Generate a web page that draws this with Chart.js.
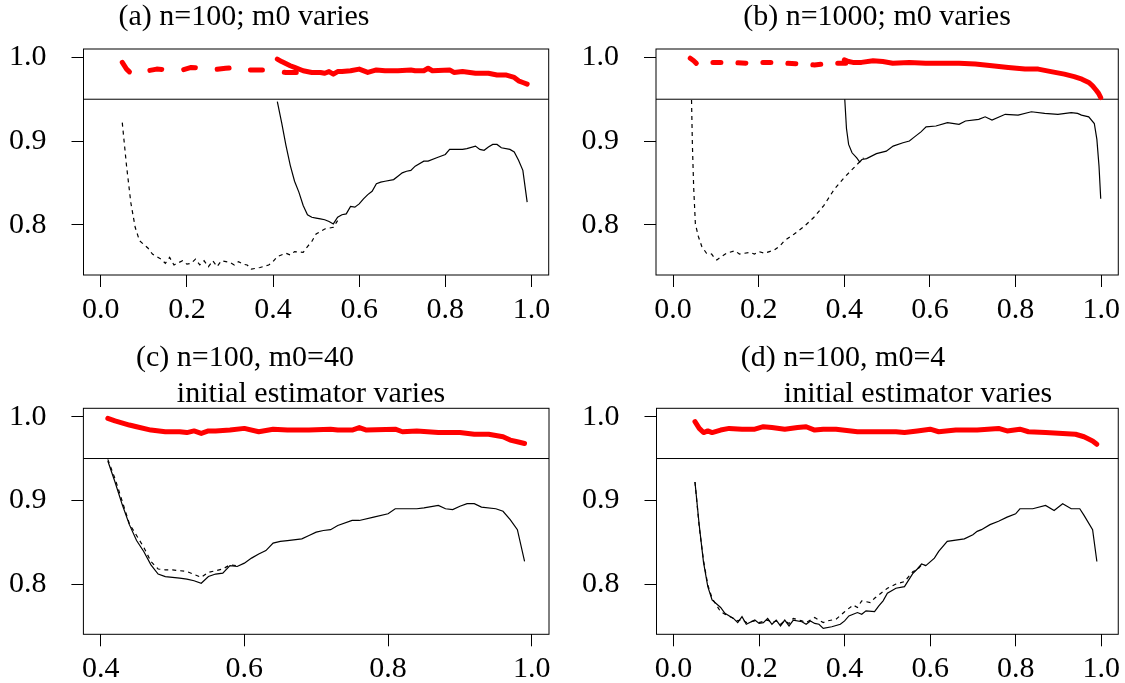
<!DOCTYPE html>
<html>
<head>
<meta charset="utf-8">
<title>Coverage panels</title>
<script src="https://cdn.jsdelivr.net/npm/chart.js@4.4.1/dist/chart.umd.min.js"></script>
<style>
  body { margin: 0; background: #fff; }
  .panel { position: absolute; }
</style>
</head>
<body>
<div class="panel" style="left:0;top:0;width:562px;height:341px"><canvas id="chartA"></canvas></div>
<div class="panel" style="left:562px;top:0;width:563px;height:341px"><canvas id="chartB"></canvas></div>
<div class="panel" style="left:0;top:341px;width:562px;height:342px"><canvas id="chartC"></canvas></div>
<div class="panel" style="left:562px;top:341px;width:563px;height:342px"><canvas id="chartD"></canvas></div>
<script>
// tick labels
const xTicksFull = [0.0, 0.2, 0.4, 0.6, 0.8, 1.0];
const xTicksC = [0.4, 0.6, 0.8, 1.0];
const yTicks = [0.8, 0.9, 1.0];
const refLevel = 0.95;

// n=100, m0=40 (solid in a, solid in c)
const est40BlackX = [0.41,0.42,0.43,0.44,0.45,0.46,0.47,0.48,0.49,0.50,0.51,0.52,0.53,0.54,0.55,0.56,0.57,0.58,0.59,0.60,0.61,0.62,0.63,0.64,0.65,0.66,0.68,0.69,0.70,0.71,0.72,0.73,0.75,0.76,0.78,0.80,0.81,0.84,0.85,0.87,0.88,0.89,0.90,0.91,0.92,0.93,0.95,0.96,0.97,0.98,0.99];
const est40BlackY = [0.947,0.922,0.895,0.871,0.852,0.839,0.823,0.812,0.809,0.808,0.807,0.806,0.804,0.801,0.809,0.812,0.813,0.822,0.821,0.825,0.831,0.836,0.840,0.849,0.851,0.852,0.854,0.858,0.862,0.864,0.865,0.870,0.876,0.876,0.880,0.884,0.890,0.890,0.891,0.894,0.890,0.889,0.893,0.896,0.896,0.892,0.890,0.887,0.877,0.865,0.827];
const est40RedX = [0.41,0.42,0.44,0.45,0.47,0.49,0.51,0.52,0.53,0.54,0.55,0.56,0.58,0.60,0.62,0.64,0.66,0.69,0.72,0.73,0.75,0.76,0.77,0.81,0.82,0.84,0.87,0.90,0.92,0.94,0.96,0.97,0.98,0.99];
const est40RedY = [0.998,0.995,0.990,0.988,0.984,0.982,0.982,0.981,0.983,0.980,0.983,0.983,0.984,0.986,0.982,0.985,0.984,0.984,0.985,0.984,0.984,0.987,0.984,0.985,0.982,0.983,0.981,0.981,0.979,0.979,0.976,0.972,0.970,0.968];

// n=100, m0=4 (dashed in a, solid in d)
const est4BlackX = [0.05,0.06,0.07,0.08,0.09,0.11,0.12,0.14,0.15,0.16,0.17,0.19,0.20,0.21,0.22,0.23,0.24,0.25,0.26,0.27,0.28,0.30,0.31,0.32,0.33,0.34,0.35,0.37,0.39,0.40,0.41,0.43,0.44,0.45,0.47,0.48,0.49,0.50,0.52,0.54,0.55,0.56,0.57,0.58,0.59,0.61,0.62,0.64,0.68,0.70,0.71,0.72,0.74,0.76,0.78,0.80,0.81,0.84,0.87,0.89,0.91,0.93,0.95,0.96,0.98,0.99];
const est4BlackY = [0.922,0.870,0.826,0.797,0.781,0.772,0.765,0.759,0.754,0.761,0.752,0.757,0.753,0.754,0.759,0.752,0.757,0.750,0.757,0.750,0.757,0.755,0.752,0.756,0.753,0.752,0.747,0.749,0.752,0.756,0.762,0.766,0.764,0.768,0.767,0.774,0.780,0.789,0.795,0.797,0.805,0.813,0.818,0.824,0.822,0.831,0.839,0.851,0.854,0.859,0.863,0.865,0.871,0.875,0.880,0.884,0.890,0.890,0.894,0.888,0.896,0.890,0.890,0.882,0.865,0.827];
const est4RedX = [0.05,0.06,0.07,0.08,0.09,0.11,0.13,0.16,0.19,0.21,0.23,0.26,0.29,0.31,0.33,0.35,0.38,0.43,0.47,0.52,0.54,0.57,0.60,0.62,0.66,0.71,0.76,0.78,0.81,0.83,0.87,0.91,0.94,0.96,0.98,0.99];
const est4RedY = [0.994,0.986,0.981,0.983,0.981,0.984,0.986,0.985,0.985,0.988,0.987,0.985,0.987,0.988,0.984,0.985,0.985,0.982,0.982,0.982,0.981,0.983,0.985,0.982,0.984,0.984,0.986,0.983,0.985,0.982,0.981,0.980,0.979,0.976,0.971,0.967];

// other initial estimator (dashed in c and d)
const cAltBlackX = [0.41,0.42,0.43,0.44,0.45,0.46,0.47,0.48,0.49,0.50,0.52,0.54,0.55,0.57,0.58,0.59];
const cAltBlackY = [0.949,0.926,0.899,0.872,0.858,0.844,0.827,0.818,0.817,0.817,0.815,0.808,0.814,0.818,0.823,0.822];
const dAltBlackX = [0.05,0.06,0.07,0.08,0.09,0.10,0.11,0.12,0.14,0.15,0.16,0.17,0.19,0.20,0.22,0.23,0.24,0.25,0.26,0.27,0.28,0.30,0.31,0.32,0.33,0.35,0.36,0.38,0.40,0.42,0.43,0.44,0.46,0.47,0.50,0.52,0.54,0.56,0.57,0.58,0.59];
const dAltBlackY = [0.922,0.868,0.828,0.799,0.783,0.775,0.767,0.764,0.759,0.756,0.758,0.754,0.756,0.754,0.757,0.754,0.756,0.752,0.756,0.753,0.759,0.756,0.754,0.757,0.760,0.754,0.756,0.758,0.767,0.775,0.772,0.780,0.778,0.783,0.795,0.800,0.803,0.815,0.817,0.823,0.822];

// n=1000
const bBlackDashX = [0.043,0.045,0.048,0.052,0.059,0.067,0.078,0.090,0.097,0.102,0.110,0.125,0.144,0.155,0.167,0.180,0.190,0.200,0.214,0.225,0.237,0.250,0.260,0.283,0.306,0.329,0.352,0.376,0.399,0.422,0.445];
const bBlackDashY = [0.949,0.896,0.845,0.801,0.786,0.774,0.766,0.765,0.760,0.758,0.761,0.766,0.769,0.765,0.766,0.767,0.765,0.768,0.766,0.768,0.770,0.775,0.781,0.789,0.798,0.809,0.823,0.842,0.856,0.868,0.880];
const bBlackSolidX = [0.401,0.405,0.410,0.418,0.429,0.436,0.441,0.452,0.475,0.498,0.514,0.537,0.552,0.564,0.579,0.591,0.614,0.641,0.668,0.683,0.714,0.729,0.745,0.776,0.806,0.837,0.868,0.899,0.930,0.945,0.954,0.971,0.984,0.990,0.995,0.999];
const bBlackSolidY = [0.950,0.915,0.896,0.886,0.880,0.875,0.878,0.879,0.885,0.888,0.894,0.898,0.900,0.905,0.911,0.917,0.918,0.922,0.920,0.924,0.926,0.929,0.925,0.932,0.931,0.935,0.933,0.932,0.934,0.933,0.931,0.929,0.921,0.902,0.870,0.831];
const bRedDashX = [0.040,0.048,0.056,0.065,0.080,0.100,0.120,0.150,0.175,0.205,0.230,0.265,0.295,0.330,0.350,0.383,0.406,0.430];
const bRedDashY = [0.999,0.996,0.992,0.993,0.994,0.994,0.994,0.9935,0.993,0.994,0.994,0.993,0.992,0.991,0.992,0.993,0.993,0.994];
const bRedSolidX = [0.400,0.410,0.420,0.440,0.467,0.490,0.513,0.552,0.590,0.629,0.668,0.706,0.745,0.783,0.822,0.853,0.883,0.914,0.937,0.955,0.971,0.980,0.988,0.994,0.999];
const bRedSolidY = [0.997,0.995,0.994,0.994,0.996,0.995,0.993,0.994,0.993,0.993,0.993,0.992,0.990,0.988,0.986,0.986,0.983,0.980,0.977,0.974,0.970,0.966,0.961,0.957,0.952];

const RED = '#ff0000';
const FONT = 'Liberation Serif';

function pts(xs, ys, xEnd) {
  const out = [];
  xs.forEach((x, i) => { if (xEnd === undefined || x <= xEnd) out.push({x: x, y: ys[i]}); });
  return out;
}

function red(xs, ys, dash, xEnd) {
  return {data: pts(xs, ys, xEnd), borderColor: RED, borderWidth: 5, borderDash: dash || [],
    borderCapStyle: 'round', borderJoinStyle: 'round', pointRadius: 0, tension: 0};
}

function black(xs, ys, dashed, xEnd) {
  return {data: pts(xs, ys, xEnd), borderColor: '#000', borderWidth: 1.2, borderDash: dashed ? [4, 4] : [],
    borderCapStyle: 'butt', pointRadius: 0, tension: 0};
}

// box, 0.95 reference line and titles
const panelDecor = {
  id: 'panelDecor',
  beforeDatasetsDraw(chart) {
    const {ctx, chartArea: a, scales: {y}} = chart;
    const yp = y.getPixelForValue(refLevel);
    ctx.save();
    ctx.strokeStyle = '#000';
    ctx.lineWidth = 1;
    ctx.beginPath();
    ctx.moveTo(a.left, yp);
    ctx.lineTo(a.right, yp);
    ctx.stroke();
    ctx.restore();
  },
  afterDraw(chart, args, opts) {
    const {ctx, chartArea: a} = chart;
    ctx.save();
    ctx.strokeStyle = '#000';
    ctx.lineWidth = 1;
    ctx.strokeRect(a.left, a.top, a.right - a.left, a.bottom - a.top);
    ctx.fillStyle = '#000';
    ctx.font = '30px "' + FONT + '"';
    ctx.textAlign = 'center';
    ctx.textBaseline = 'alphabetic';
    (opts.lines || []).forEach(l => ctx.fillText(l[0], l[1], l[2]));
    ctx.restore();
  }
};

function makePanel(id, p) {
  const tickFont = {family: FONT, size: 30};
  return new Chart(document.getElementById(id), {
    type: 'line',
    data: {datasets: p.datasets},
    plugins: [panelDecor],
    options: {
      responsive: true,
      maintainAspectRatio: false,
      animation: false,
      layout: {padding: {top: p.padTop, right: p.padRight, left: 0, bottom: 0}},
      plugins: {legend: {display: false}, tooltip: {enabled: false}, panelDecor: {lines: p.titles}},
      scales: {
        x: {
          type: 'linear', min: p.xMin, max: p.xMax,
          afterBuildTicks: s => { s.ticks = p.xTicks.map(v => ({value: v})); },
          afterFit: s => { s.height = p.xAxisH; },
          ticks: {callback: v => v.toFixed(1), font: tickFont, color: '#000', padding: 5, maxRotation: 0, autoSkip: false},
          grid: {drawOnChartArea: false, drawTicks: true, tickLength: 12, tickColor: '#000', tickWidth: 1},
          border: {display: false}
        },
        y: {
          type: 'linear', min: 0.74, max: 1.01,
          afterBuildTicks: s => { s.ticks = yTicks.map(v => ({value: v})); },
          afterFit: s => { s.width = p.yAxisW; },
          ticks: {callback: v => v.toFixed(1), font: tickFont, color: '#000', padding: 25},
          grid: {drawOnChartArea: false, drawTicks: true, tickLength: 12, tickColor: '#000', tickWidth: 1},
          border: {display: false}
        }
      }
    }
  });
}

makePanel('chartA', {
  xMin: -0.04, xMax: 1.04, xTicks: xTicksFull, yAxisW: 83.5, padTop: 49, padRight: 13.3, xAxisH: 66,
  titles: [['(a) n=100; m0 varies', 244, 25]],
  datasets: [
    red(est40RedX, est40RedY),
    black(est40BlackX, est40BlackY, false),
    red(est4RedX, est4RedY, [12, 22], 0.50),
    black(est4BlackX, est4BlackY, true, 0.55)
  ]
});

makePanel('chartB', {
  xMin: -0.04, xMax: 1.04, xTicks: xTicksFull, yAxisW: 94, padTop: 49, padRight: 2.5, xAxisH: 66,
  titles: [['(b) n=1000; m0 varies', 315, 25]],
  datasets: [
    red(bRedSolidX, bRedSolidY),
    black(bBlackSolidX, bBlackSolidY, false),
    red(bRedDashX, bRedDashY, [8, 17]),
    black(bBlackDashX, bBlackDashY, true)
  ]
});

makePanel('chartC', {
  xMin: 0.376, xMax: 1.024, xTicks: xTicksC, yAxisW: 83.4, padTop: 67.3, padRight: 13, xAxisH: 48.7,
  titles: [['(c) n=100, m0=40', 245, 25], ['initial estimator varies', 311, 61]],
  datasets: [
    red(est40RedX, est40RedY),
    black(est40BlackX, est40BlackY, false),
    black(cAltBlackX, cAltBlackY, true)
  ]
});

makePanel('chartD', {
  xMin: -0.04, xMax: 1.04, xTicks: xTicksFull, yAxisW: 94.5, padTop: 67.3, padRight: 2.7, xAxisH: 48.7,
  titles: [['(d) n=100, m0=4', 281, 25], ['initial estimator varies', 356, 61]],
  datasets: [
    red(est4RedX, est4RedY),
    black(est4BlackX, est4BlackY, false),
    black(dAltBlackX, dAltBlackY, true)
  ]
});
</script>
</body>
</html>
